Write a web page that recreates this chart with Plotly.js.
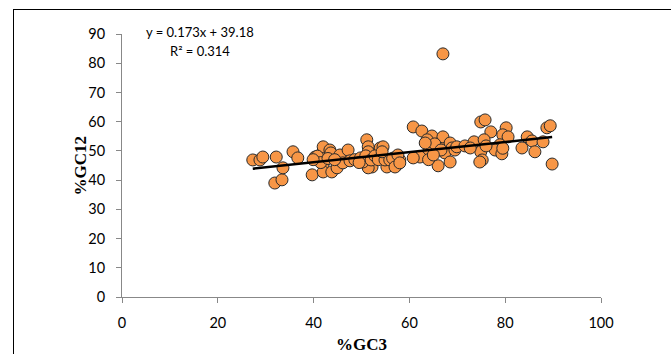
<!DOCTYPE html>
<html>
<head>
<meta charset="utf-8">
<script src="https://cdn.plot.ly/plotly-3.0.1.min.js"></script>
<style>
html,body{margin:0;padding:0;background:#fff;overflow:hidden;}
#frame{position:absolute;left:13px;top:9px;width:700px;height:400px;border-left:1.5px solid #000;border-top:1.5px solid #000;pointer-events:none;}
#chart{position:absolute;left:0;top:0;width:671px;height:354px;}
</style>
</head>
<body>
<div id="chart"></div>
<div id="frame"></div>
<script>
// %GC3 values (x)
const gc3 = [
  27.3,28.8,29.4,32.2,31.9,33.4,33.6,35.7,36.7,39.7,40.3,41.8,42.0,43.4,43.6,42.0,42.0,43.8,44.9,45.5,46.1,47.2,47.6,48.6,40.8,41.5,43.0,44.4,39.9,
  51.1,51.4,51.4,53.9,54.5,52.2,51.4,55.3,57.4,58.0,49.8,50.3,50.9,52.0,52.8,53.5,54.9,55.9,56.5,57.6,57.0,58.0,54.3,49.5,
  60.8,62.6,64.7,63.7,66.4,67.0,68.5,68.9,67.4,69.5,66.0,68.5,63.9,62.2,60.8,64.0,65.3,63.3,67.0,66.6,65.0,
  74.9,75.8,77.0,80.2,79.5,80.6,69.9,71.6,73.5,75.6,74.9,75.2,74.7,78.9,77.9,79.3,83.5,84.6,79.5,72.7,76.0,88.7,89.4,85.6,87.9,86.2,89.8
];
// %GC12 values (y)
const gc12 = [
  46.9,46.9,47.9,47.9,39.0,40.1,44.2,49.7,47.6,41.8,47.9,49.3,51.4,50.3,49.3,45.5,42.8,42.8,44.2,48.6,45.9,50.3,46.6,47.0,48.2,46.0,47.4,47.0,47.0,
  53.8,51.4,49.7,51.0,51.4,44.5,44.2,44.5,45.2,46.9,47.6,46.2,48.3,46.9,48.3,47.0,46.9,46.9,47.5,48.6,44.5,45.9,49.7,46.0,
  58.2,56.8,55.1,53.8,52.7,54.8,52.7,51.0,49.3,50.3,44.9,46.2,49.3,47.9,47.6,47.0,52.4,52.7,83.2,50.3,48.6,
  59.9,60.6,56.5,57.9,55.5,54.8,51.4,51.7,53.1,53.8,49.7,46.9,46.2,52.1,50.3,49.0,51.0,54.8,50.9,51.0,51.7,57.9,58.6,53.4,53.1,49.7,45.5
];
// Linear trendline reported on the chart
const slope = 0.173;
const intercept = 39.18;
const xTicks = [0,20,40,60,80,100];
const yTicks = [0,10,20,30,40,50,60,70,80,90];

const xMin = Math.min(...gc3), xMax = Math.max(...gc3);
const trendX = [xMin, xMax];
const trendY = trendX.map(v => slope * v + intercept);

const tickFont = {family: 'Lato, "Open Sans", sans-serif', size: 14.5, color: '#000'};
const titleFont = {family: '"Liberation Serif", "Times New Roman", serif', size: 17, color: '#000', weight: 'bold'};
const eqFont = {family: 'Lato, "Open Sans", sans-serif', size: 13, color: '#000'};

const data = [
  {
    type: 'scatter', mode: 'markers', x: gc3, y: gc12,
    marker: {size: 12, color: '#F79646', line: {color: '#2b2b2b', width: 1}},
    hoverinfo: 'skip', showlegend: false
  },
  {
    type: 'scatter', mode: 'lines', x: trendX, y: trendY,
    line: {color: '#000', width: 2.5}, hoverinfo: 'skip', showlegend: false
  }
];

const layout = {
  width: 671, height: 354,
  margin: {l: 122, r: 70, t: 34, b: 57},
  paper_bgcolor: 'rgba(0,0,0,0)', plot_bgcolor: 'rgba(0,0,0,0)',
  showlegend: false,
  xaxis: {
    range: [0, 100], tickvals: xTicks, ticktext: xTicks.map(String),
    showgrid: false, zeroline: false, showline: true, linecolor: '#888', linewidth: 1,
    ticks: 'outside', ticklen: 5, tickcolor: '#888', tickfont: tickFont, ticklabelstandoff: 8,
    title: {text: '%GC3', font: titleFont, standoff: 12},
    automargin: false, fixedrange: true
  },
  yaxis: {
    range: [0, 90], tickvals: yTicks, ticktext: yTicks.map(String),
    showgrid: false, zeroline: false, showline: true, linecolor: '#888', linewidth: 1,
    ticks: 'outside', ticklen: 5, tickcolor: '#888', tickfont: tickFont, ticklabelstandoff: 8,
    automargin: false, fixedrange: true
  },
  annotations: [
    {xref: 'paper', yref: 'paper', x: (80 - 122) / 479, y: 0.5, xanchor: 'center', yanchor: 'middle',
     text: '%GC12', textangle: -90, showarrow: false, font: titleFont},
    {xref: 'paper', yref: 'paper', x: (200 - 122) / 479, y: (297 - 32) / 263, xanchor: 'center', yanchor: 'middle',
     text: 'y = 0.173x + 39.18', showarrow: false, font: eqFont},
    {xref: 'paper', yref: 'paper', x: (200 - 122) / 479, y: (297 - 51) / 263, xanchor: 'center', yanchor: 'middle',
     text: 'R² = 0.314', showarrow: false, font: eqFont}
  ]
};

Plotly.newPlot('chart', data, layout, {staticPlot: true, displayModeBar: false});
</script>
</body>
</html>
